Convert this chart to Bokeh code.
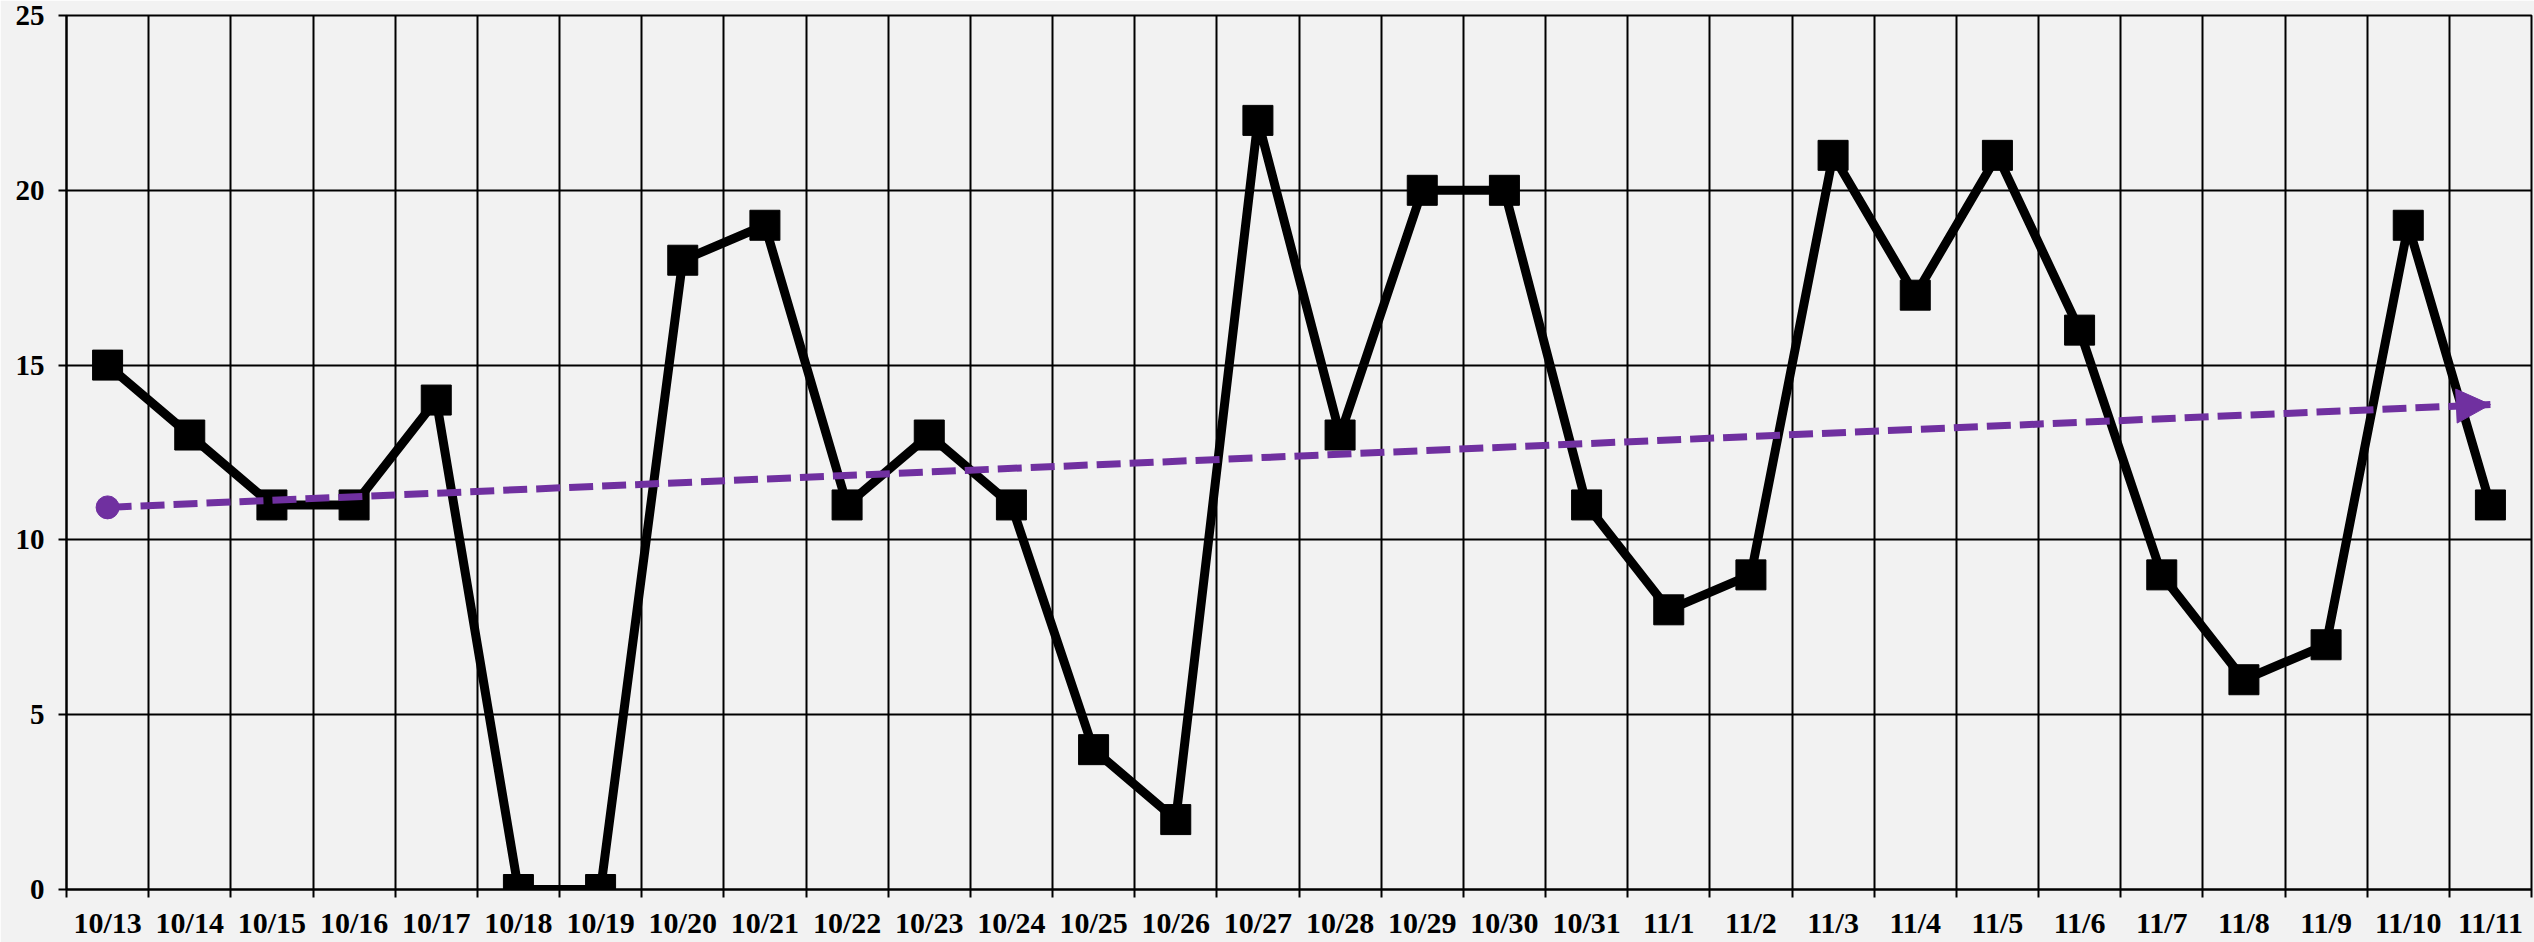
from bokeh.plotting import figure
from bokeh.models import (Range1d, LinearAxis, FixedTicker, Grid, Arrow, NormalHead,
                          ColumnDataSource)
from bokeh.embed import file_html
from bokeh.resources import INLINE

dates = ["10/13", "10/14", "10/15", "10/16", "10/17", "10/18", "10/19", "10/20", "10/21",
         "10/22", "10/23", "10/24", "10/25", "10/26", "10/27", "10/28", "10/29", "10/30",
         "10/31", "11/1", "11/2", "11/3", "11/4", "11/5", "11/6", "11/7", "11/8", "11/9",
         "11/10", "11/11"]
values = [15, 13, 11, 11, 14, 0, 0, 18, 19, 11, 13, 11, 4, 2, 22, 13, 20, 20, 11, 8, 9,
          21, 17, 21, 16, 9, 6, 7, 19, 11]
trend_start = 10.93
trend_end = 13.87
y_ticks = [0, 5, 10, 15, 20, 25]

BG = "#F2F2F2"
PURPLE = "#7030A0"
FONT = "Liberation Serif"

n = len(dates)
xc = [i + 0.5 for i in range(n)]
bounds = list(range(n + 1))
src = ColumnDataSource(dict(x=xc, y=values))

p = figure(width=2534, height=942, output_backend="svg", toolbar_location=None,
           x_range=Range1d(0, n), y_range=Range1d(0, 25),
           x_axis_type=None, y_axis_type=None,
           background_fill_color=BG, border_fill_color=BG,
           min_border_left=66, min_border_right=3, min_border_top=15, min_border_bottom=53)
p.outline_line_color = "black"
p.outline_line_width = 2

# y axis
yax = LinearAxis(ticker=FixedTicker(ticks=y_ticks))
yax.axis_line_color = "black"
yax.axis_line_width = 2
yax.major_tick_line_color = "black"
yax.major_tick_line_width = 2
yax.major_tick_out = 8
yax.major_tick_in = 0
yax.minor_tick_line_color = None
yax.major_label_standoff = 14
yax.major_label_text_font = FONT
yax.major_label_text_font_style = "bold"
yax.major_label_text_font_size = "29px"
yax.major_label_text_color = "black"
p.add_layout(yax, "left")

# x axis: labels at category centers, tick marks at category boundaries
xax = LinearAxis(ticker=FixedTicker(ticks=xc, minor_ticks=bounds),
                 major_label_overrides={c: d for c, d in zip(xc, dates)})
xax.axis_line_color = "black"
xax.axis_line_width = 2
xax.major_tick_line_color = None
xax.major_tick_out = 8
xax.major_tick_in = 0
xax.minor_tick_line_color = "black"
xax.minor_tick_line_width = 2
xax.minor_tick_out = 8
xax.minor_tick_in = 0
xax.major_label_standoff = 8
xax.major_label_text_font = FONT
xax.major_label_text_font_style = "bold"
xax.major_label_text_font_size = "30px"
xax.major_label_text_color = "black"
p.add_layout(xax, "below")

# grids
p.add_layout(Grid(dimension=0, ticker=FixedTicker(ticks=bounds),
                  grid_line_color="black", grid_line_width=2))
p.add_layout(Grid(dimension=1, ticker=FixedTicker(ticks=y_ticks),
                  grid_line_color="black", grid_line_width=2))

# data line
p.line("x", "y", source=src, line_color="black", line_width=9, line_join="round")
p.scatter("x", "y", source=src, marker="square", size=30, fill_color="black",
          line_color="black")

# trend line
p.line([xc[0], xc[-1]], [trend_start, trend_end], line_color=PURPLE, line_width=7,
       line_dash="24 9")
p.scatter([xc[0]], [trend_start], marker="circle", size=23, fill_color=PURPLE,
          line_color=PURPLE)
p.add_layout(Arrow(end=NormalHead(size=34, fill_color=PURPLE, line_color=PURPLE),
                   x_start=xc[-2], y_start=trend_start + (trend_end - trend_start) * (n - 2) / (n - 1),
                   x_end=xc[-1], y_end=trend_end, line_alpha=0))

html = file_html(p, INLINE)
open("out.html", "w").write(html)
